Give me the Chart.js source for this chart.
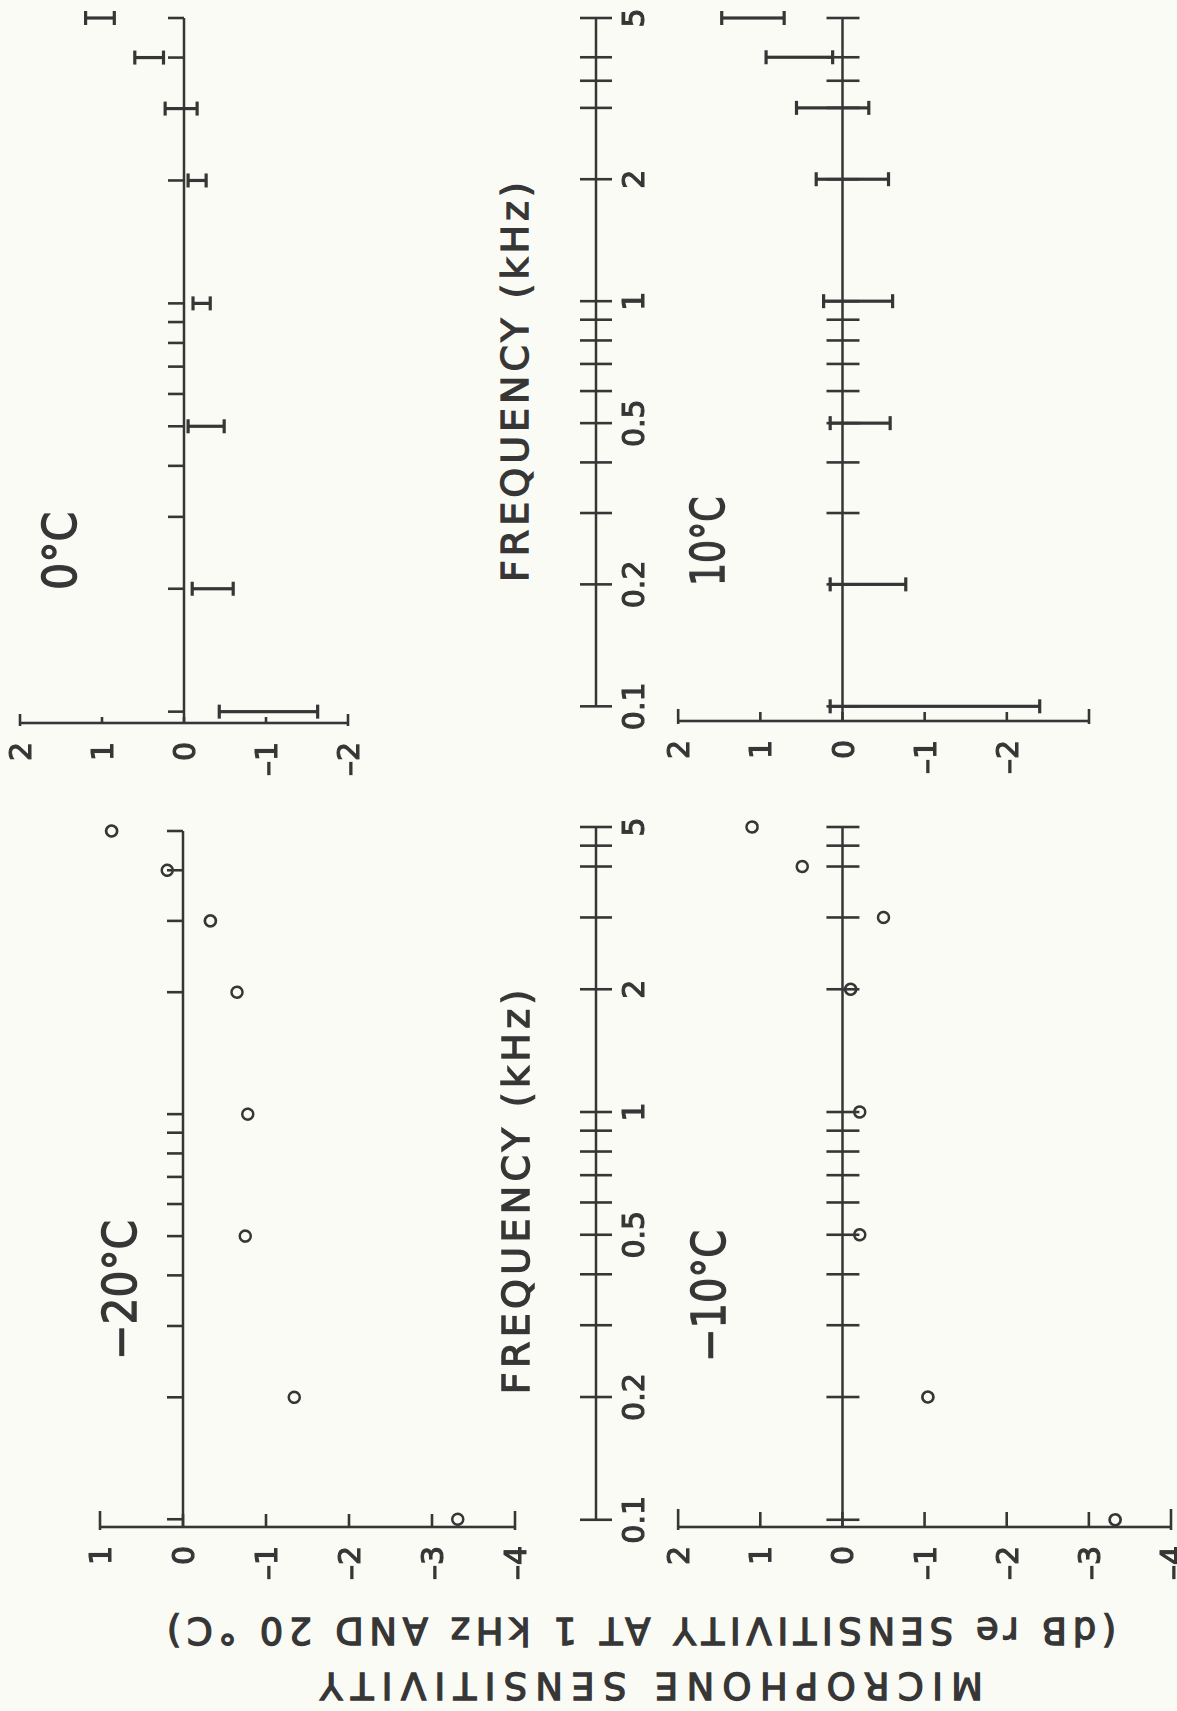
<!DOCTYPE html>
<html>
<head>
<meta charset="utf-8">
<script src="https://cdn.jsdelivr.net/npm/chart.js@4.4.1/dist/chart.umd.min.js"></script>
<style>
  html, body { margin: 0; padding: 0; background: #fbfbf5; }
  body { width: 1177px; height: 1711px; overflow: hidden; position: relative;
         font-family: "DejaVu Sans", sans-serif; color: #363636; }
  /* the figure is built upright (1711 x 1177) and turned a quarter left, like the scan */
  #fig { position: absolute; left: 0; top: 0; width: 1711px; height: 1177px;
         transform-origin: 0 0; transform: translate(0, 1711px) rotate(-90deg); }
  #fig canvas { position: absolute; }
  .lbl { position: absolute; white-space: nowrap; line-height: 1; transform-origin: center center;
         -webkit-text-stroke: 1.3px #363636; }
</style>
</head>
<body>
<div id="fig"></div>
<script>
const INK = '#363636';

// measured frequencies (kHz)
const freqs = [0.1, 0.2, 0.5, 1, 2, 3, 4, 5];

// -20 °C and -10 °C: single readings (dB re sensitivity at 1 kHz and 20 °C)
const sensMinus20 = [-3.31, -1.34, -0.75, -0.78, -0.65, -0.33, 0.19, 0.86];
const sensMinus10 = [-3.32, -1.04, -0.21, -0.21, -0.10, -0.50, 0.49, 1.10];

// 0 °C and 10 °C: spread of readings (low / high)
const low0 = [-1.63, -0.60, -0.49, -0.32, -0.27, -0.16, 0.25, 0.85];
const high0 = [-0.43, -0.10, -0.05, -0.11, -0.05, 0.23, 0.60, 1.20];
const low10 = [-2.40, -0.77, -0.58, -0.61, -0.56, -0.32, 0.12, 0.71];
const high10 = [0.15, 0.15, 0.15, 0.23, 0.32, 0.56, 0.93, 1.47];

// ticks
const freqTicks = [0.1, 0.2, 0.3, 0.4, 0.5, 0.6, 0.7, 0.8, 0.9, 1, 2, 3, 4, 5];
const freqTicks10 = freqTicks.concat([3.5]);
const freqTicksMinus10 = freqTicks.concat([4.5]);
const freqTickLabels = [0.1, 0.2, 0.5, 1, 2, 5];
const sensTicks0 = [2, 1, 0, -1, -2];
const sensTicks10 = [2, 1, 0, -1, -2, -3];
const sensLabels10 = [2, 1, 0, -1, -2];
const sensTicksMinus20 = [1, 0, -1, -2, -3, -4];
const sensTicksMinus10 = [2, 1, 0, -1, -2, -3, -4];

const fig = document.getElementById('fig');

// panel frames in the upright figure: [left, top, right, bottom] of the plot area
const panels = [
  { id: 'm20', area: [184, 100, 880, 515], fMin: 0.0957, sMax: 1, sMin: -4,
    sens: sensTicksMinus20, sensLab: sensTicksMinus20, sensTick: 13,
    zTicks: freqTicks, zDown: 0, pts: sensMinus20 },
  { id: 'm10', area: [184, 596, 884, 1171], fMin: 0.096, sMax: 3, sMin: -4,
    sens: sensTicksMinus10, sensLab: sensTicksMinus10, sensTick: 15,
    zTicks: freqTicksMinus10, zDown: 17, freqAxisAt: 3, pts: sensMinus10 },
  { id: 'p0', area: [988, 20, 1693, 348], fMin: 0.0938, sMax: 2, sMin: -2,
    sens: sensTicks0, sensLab: sensTicks0, sensTick: 6,
    zTicks: freqTicks, zDown: 0, lo: low0, hi: high0 },
  { id: 'p10', area: [990, 596, 1693, 1089], fMin: 0.092, sMax: 3, sMin: -3,
    sens: sensTicks10, sensLab: sensLabels10, sensTick: 9,
    zTicks: freqTicks10, zDown: 17, freqAxisAt: 3, lo: low10, hi: high10 }
];

const fmtSens = v => (v < 0 ? '\u2013' + Math.abs(v) : String(v));

// axis lines, ticks and tick labels, placed with the chart's own scales
function axesFor(p) {
  return {
    id: 'axes_' + p.id,
    beforeDatasetsDraw(chart) {
      const ctx = chart.ctx;
      const xs = chart.scales.x, ys = chart.scales.y;
      const x0 = chart.chartArea.left;
      const seg = (ax, ay, bx, by) => { ctx.beginPath(); ctx.moveTo(ax, ay); ctx.lineTo(bx, by); ctx.stroke(); };
      const label = (t, x, y) => { ctx.lineWidth = 1.2; ctx.strokeText(t, x, y); ctx.fillText(t, x, y); ctx.lineWidth = 2.6; };
      ctx.save();
      ctx.strokeStyle = INK;
      ctx.fillStyle = INK;
      ctx.lineWidth = 2.6;

      // sensitivity axis
      const sTop = p.sens[0], sBot = p.sens[p.sens.length - 1];
      seg(x0, ys.getPixelForValue(sTop), x0, ys.getPixelForValue(sBot));
      ctx.font = '30px "DejaVu Sans"';
      ctx.textAlign = 'right';
      ctx.textBaseline = 'alphabetic';
      p.sens.forEach(v => {
        const y = ys.getPixelForValue(v);
        const end = v === sTop || v === sBot;
        seg(x0 - (end ? 3 : 0), y, x0 + p.sensTick + (end ? 3 : 0), y);
        if (p.sensLab.includes(v)) label(fmtSens(v), x0 - 19, y + 11);
      });

      // zero line with frequency ticks
      const yz = ys.getPixelForValue(0);
      seg(x0, yz, xs.getPixelForValue(5), yz);
      p.zTicks.forEach(f => {
        const x = xs.getPixelForValue(f);
        seg(x, yz - 16, x, yz + p.zDown);
      });

      // labelled frequency axis
      if (p.freqAxisAt !== undefined) {
        const ya = ys.getPixelForValue(p.freqAxisAt);
        seg(xs.getPixelForValue(0.1), ya, xs.getPixelForValue(5), ya);
        p.zTicks.forEach(f => {
          const x = xs.getPixelForValue(f);
          seg(x, ya - 16, x, ya + 16);
        });
        ctx.textAlign = 'center';
        freqTickLabels.forEach(f => label(String(f), xs.getPixelForValue(f), ya + 48));
      }
      ctx.restore();
    }
  };
}

function makePanel(p) {
  const pad = { left: 80, right: 30, top: 30, bottom: 30 };
  const [L, T, R, B] = p.area;
  const w = R - L + pad.left + pad.right;
  const h = B - T + pad.top + pad.bottom;
  const cv = document.createElement('canvas');
  cv.width = w; cv.height = h;
  cv.style.left = (L - pad.left) + 'px';
  cv.style.top = (T - pad.top) + 'px';
  cv.style.width = w + 'px';
  cv.style.height = h + 'px';
  fig.appendChild(cv);

  const datasets = [];
  if (p.pts) {
    datasets.push({
      data: freqs.map((f, i) => ({ x: f, y: p.pts[i] })),
      pointStyle: 'circle', pointRadius: 5.5, pointBorderWidth: 2.6,
      pointBorderColor: INK, pointBackgroundColor: 'rgba(0,0,0,0)', clip: false
    });
  }
  if (p.lo) {
    freqs.forEach((f, i) => {
      datasets.push({
        data: [{ x: f, y: p.lo[i] }, { x: f, y: p.hi[i] }],
        showLine: true, borderColor: INK, borderWidth: 3.2,
        pointStyle: 'line', pointRadius: 7, pointBorderWidth: 3.2,
        pointBorderColor: INK, clip: false
      });
    });
  }

  new Chart(cv, {
    type: 'scatter',
    data: { datasets },
    options: {
      responsive: false,
      animation: false,
      devicePixelRatio: 1,
      events: [],
      layout: { padding: pad },
      plugins: { legend: { display: false }, tooltip: { enabled: false } },
      scales: {
        x: { type: 'logarithmic', min: p.fMin, max: 5, display: false },
        y: { type: 'linear', min: p.sMin, max: p.sMax, display: false }
      }
    },
    plugins: [axesFor(p)]
  });
}

panels.forEach(makePanel);

// text, centred at (cx, cy) and stretched to the width it has in the scan
function addText(txt, cx, cy, size, target, rot) {
  const el = document.createElement('div');
  el.className = 'lbl';
  el.textContent = txt;
  el.style.fontSize = size + 'px';
  fig.appendChild(el);
  const w = el.offsetWidth;
  let sx = 1;
  if (w > target) {
    sx = target / w;
  } else {
    const ls = (target - w) / (txt.length - 1);
    el.style.letterSpacing = ls + 'px';
    el.style.paddingLeft = ls + 'px';
  }
  el.style.left = (cx - el.offsetWidth / 2) + 'px';
  el.style.top = (cy - el.offsetHeight / 2) + 'px';
  el.style.transform = 'rotate(' + (rot || 0) + 'deg) scaleX(' + sx + ')';
}

addText('0°C', 1160, 60, 46, 78);
addText('10°C', 1170, 708, 46, 90);
addText('\u221220°C', 421, 120, 46, 140);
addText('\u221210°C', 415, 709, 46, 132);
addText('FREQUENCY  (kHz)', 1329, 515, 38, 404);
addText('FREQUENCY  (kHz)', 519, 516, 38, 409);
addText('MICROPHONE  SENSITIVITY', 26, 651, 37, 671, -90);
addText('(dB re  SENSITIVITY  AT 1 kHz  AND 20 °C)', 80, 641, 37, 966, -90);
</script>
</body>
</html>
